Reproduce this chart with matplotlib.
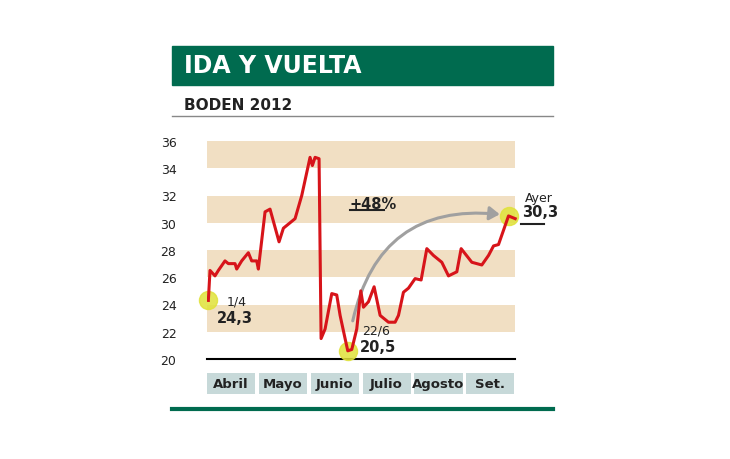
import matplotlib
matplotlib.use("Agg")
import matplotlib.pyplot as plt
from matplotlib.patches import Rectangle, FancyArrowPatch, Circle
from matplotlib.lines import Line2D

months = ["Abril", "Mayo", "Junio", "Julio", "Agosto", "Set."]
x = [0.026,0.058,0.154,0.219,0.347,0.412,0.541,0.573,0.669,0.798,0.862,0.959,0.991,1.120,1.216,1.390,1.474,1.699,1.828,1.988,2.033,2.085,2.162,2.201,2.278,2.407,2.503,2.568,2.664,2.716,2.793,2.889,2.967,3.018,3.115,3.224,3.340,3.501,3.629,3.694,3.790,3.887,4.015,4.131,4.241,4.369,4.530,4.659,4.820,4.903,5.109,5.302,5.431,5.528,5.624,5.817,5.946]
y = [24.3,26.5,26.1,26.5,27.2,27.0,27.0,26.6,27.2,27.8,27.2,27.2,26.6,30.8,31.0,28.6,29.6,30.3,32.0,34.8,34.2,34.8,34.7,21.5,22.2,24.8,24.7,23.2,21.5,20.6,20.7,22.2,25.0,23.8,24.2,25.3,23.2,22.7,22.7,23.2,24.9,25.2,25.9,25.8,28.1,27.6,27.1,26.1,26.4,28.1,27.1,26.9,27.6,28.3,28.4,30.5,30.3]
yticks = [20,22,24,26,28,30,32,34,36]

W, H = 730, 460
fig = plt.figure(figsize=(7.3, 4.6), dpi=100)
fig.patch.set_facecolor("white")
green = "#006b4f"

def fx(px): return px / W
def fy(py): return 1 - py / H

# header
fig.patches.append(Rectangle((fx(172), fy(86)), fx(553) - fx(172), fy(47) - fy(86), transform=fig.transFigure, color=green))
fig.text(fx(184), fy(66), "IDA Y VUELTA", color="white", fontsize=17, fontweight="bold", va="center", family="Liberation Sans Narrow")
fig.text(fx(184), fy(105), "BODEN 2012", color="#222", fontsize=11, fontweight="bold", va="center", family="Liberation Sans Narrow")
fig.lines.append(Line2D([fx(172), fx(553)], [fy(117), fy(117)], transform=fig.transFigure, color="#888", lw=1))
fig.lines.append(Line2D([fx(172), fx(553)], [fy(410), fy(410)], transform=fig.transFigure, color=green, lw=3))

ax = fig.add_axes([fx(207), fy(360), fx(518) - fx(207), fy(142) - fy(360)])
ax.set_xlim(0, 6)
ax.set_ylim(20, 36)
for s in ax.spines.values():
    s.set_visible(False)
ax.set_xticks([])
ax.set_yticks(yticks)
ax.tick_params(axis="y", length=0, labelsize=9, pad=22, labelcolor="#222")
for lo in [22, 26, 30, 34]:
    ax.add_patch(Rectangle((0, lo), 5.94, 2, color="#f1dfc3", lw=0, zorder=0))
ax.plot([0, 5.94], [20, 20], color="black", lw=1.5, zorder=1, clip_on=False)

for i, m in enumerate(months):
    ax.add_patch(Rectangle((i * 1.0 + 0.0, 17.43), 0.93, 1.54, color="#c7d9d9", lw=0, clip_on=False))
    ax.text(i + 0.465, 18.2, m, ha="center", va="center", fontsize=9.5, fontweight="bold", color="#222", family="Liberation Sans Narrow")

ax.plot(x, y, color="#d7141a", lw=2.2, zorder=3)

for (cx, cy) in [(x[0], y[0]), (x[29], y[29]), (x[-2], y[-2])]:
    ax.plot(cx, cy, "o", ms=13, color="#e0e23a", alpha=0.85, zorder=2, clip_on=False)

arr = FancyArrowPatch((2.8, 22.6), (5.7, 30.6), connectionstyle="arc3,rad=-0.45", arrowstyle="-|>,head_length=6,head_width=4", color="#a0a0a0", lw=2.2, zorder=2)
ax.add_patch(arr)

nf = "Liberation Sans Narrow"
ax.text(0.37, 24.0, "1/4", fontsize=9, color="#222", family=nf)
ax.text(0.2, 22.7, "24,3", fontsize=10.5, fontweight="bold", color="#222", family=nf)
ax.text(3.0, 21.9, "22/6", fontsize=9, color="#222", family=nf)
ax.text(2.95, 20.6, "20,5", fontsize=10.5, fontweight="bold", color="#222", family=nf)
ax.text(2.75, 31.1, "+48%", fontsize=10.5, fontweight="bold", color="#222", family=nf)
ax.plot([2.75, 3.42], [30.9, 30.9], color="#222", lw=1.5, clip_on=False)
ax.text(6.13, 31.6, "Ayer", fontsize=9, color="#222", family=nf, clip_on=False)
ax.text(6.08, 30.5, "30,3", fontsize=10.5, fontweight="bold", color="#222", family=nf, clip_on=False)
ax.plot([6.06, 6.5], [29.9, 29.9], color="#222", lw=1.5, clip_on=False)

fig.savefig("out.png", dpi=100)
